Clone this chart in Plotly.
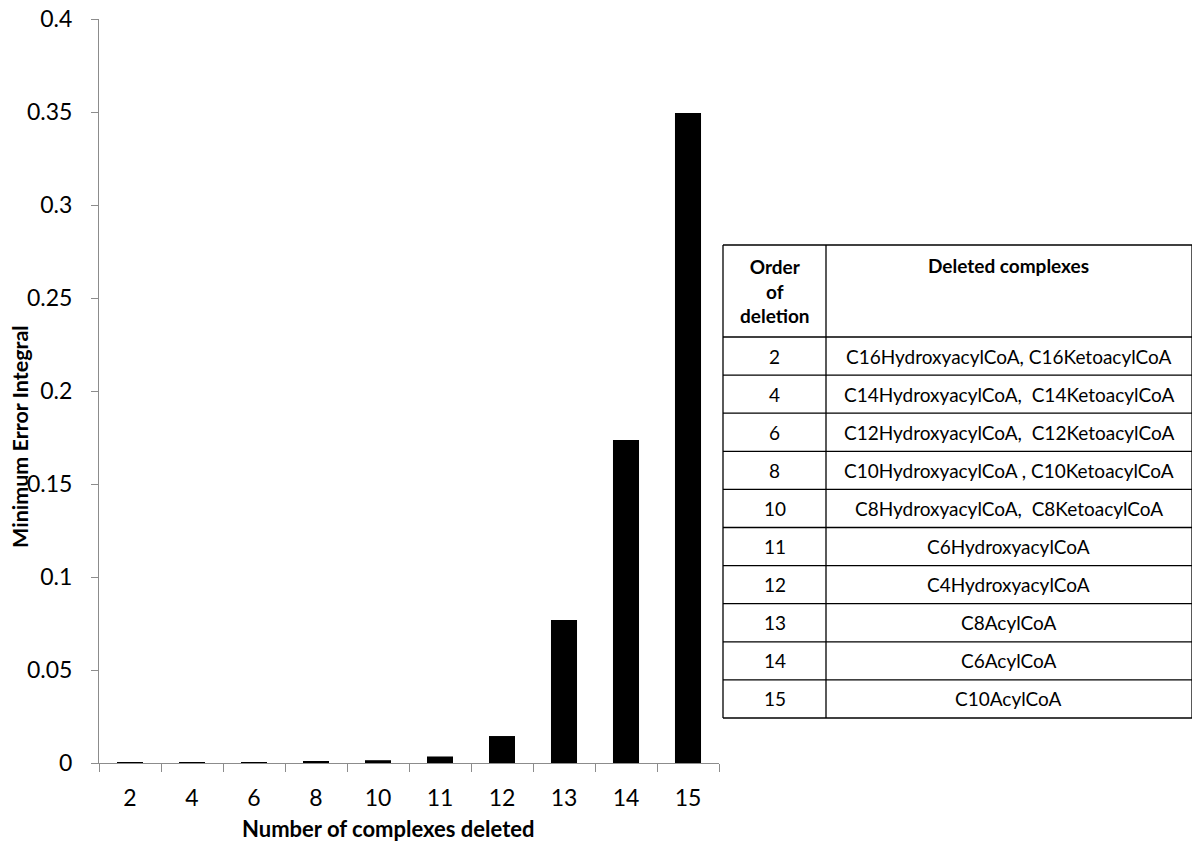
import plotly.graph_objects as go

categories = ["2", "4", "6", "8", "10", "11", "12", "13", "14", "15"]
min_error = [0.0002, 0.0003, 0.0004, 0.0008, 0.0015, 0.0035, 0.0145, 0.0769, 0.1737, 0.3495]

x_title = "Number of complexes deleted"
y_title = "Minimum Error Integral"

table_header = ["Order<br>of<br>deletion", "Deleted complexes"]
order_of_deletion = ["2", "4", "6", "8", "10", "11", "12", "13", "14", "15"]
deleted_complexes = [
    "C16HydroxyacylCoA, C16KetoacylCoA",
    "C14HydroxyacylCoA,  C14KetoacylCoA",
    "C12HydroxyacylCoA,  C12KetoacylCoA",
    "C10HydroxyacylCoA , C10KetoacylCoA",
    "C8HydroxyacylCoA,  C8KetoacylCoA",
    "C6HydroxyacylCoA",
    "C4HydroxyacylCoA",
    "C8AcylCoA",
    "C6AcylCoA",
    "C10AcylCoA",
]

FONT = "Lato"
W, H = 1200, 847
OFF = 8  # page body margin offset in the screenshot


def px(xp):
    return (xp - OFF) / W


def py(yp):
    return 1 - (yp - OFF) / H


fig = go.Figure()
fig.add_trace(go.Bar(
    x=categories, y=min_error,
    marker=dict(color="black", line=dict(width=0)),
    showlegend=False,
))

# ---- table drawn with shapes + annotations (paper coordinates) ----
tx0, tx1, tx2 = 723, 826, 1192
ty_top, ty_head = 245, 337
row_h = 38.1
n_rows = len(order_of_deletion)
ty_bot = ty_head + row_h * n_rows
line = dict(color="black", width=1.3)

shapes = []
for x in (tx0, tx1, tx2):
    shapes.append(dict(type="line", xref="paper", yref="paper",
                       x0=px(x), x1=px(x), y0=py(ty_top), y1=py(ty_bot), line=line))
for yv in [ty_top, ty_head] + [ty_head + row_h * (i + 1) for i in range(n_rows)]:
    shapes.append(dict(type="line", xref="paper", yref="paper",
                       x0=px(tx0), x1=px(tx2), y0=py(yv), y1=py(yv), line=line))

annotations = []
c1 = (tx0 + tx1) / 2
c2 = (tx1 + tx2) / 2
annotations.append(dict(text="<b>" + table_header[0] + "</b>", x=px(c1), y=py(291),
                        xref="paper", yref="paper", xanchor="center", yanchor="middle",
                        align="center", showarrow=False,
                        font=dict(family=FONT, size=19, color="black")))
annotations.append(dict(text="<b>" + table_header[1] + "</b>", x=px(c2), y=py(265),
                        xref="paper", yref="paper", xanchor="center", yanchor="middle",
                        align="center", showarrow=False,
                        font=dict(family=FONT, size=19, color="black")))
for i, (o, d) in enumerate(zip(order_of_deletion, deleted_complexes)):
    yc = ty_head + row_h * (i + 0.5)
    annotations.append(dict(text=o, x=px(c1), y=py(yc), xref="paper", yref="paper",
                            xanchor="center", yanchor="middle", showarrow=False,
                            font=dict(family=FONT, size=19, color="black")))
    annotations.append(dict(text=d.replace("  ", "&nbsp; "), x=px(c2), y=py(yc),
                            xref="paper", yref="paper",
                            xanchor="center", yanchor="middle", showarrow=False,
                            font=dict(family=FONT, size=19, color="black")))

# axis titles
annotations.append(dict(text="<b>" + x_title + "</b>", x=px(388), y=py(828),
                        xref="paper", yref="paper", xanchor="center", yanchor="middle",
                        showarrow=False, font=dict(family=FONT, size=22, color="black")))
annotations.append(dict(text="<b>" + y_title + "</b>", x=px(20), y=py(437),
                        xref="paper", yref="paper", xanchor="center", yanchor="middle",
                        textangle=-90, showarrow=False,
                        font=dict(family=FONT, size=21.5, color="black")))

fig.update_layout(
    width=W, height=H,
    margin=dict(l=0, r=0, t=0, b=0, pad=0),
    paper_bgcolor="white", plot_bgcolor="white",
    bargap=0.58,
    showlegend=False,
    font=dict(family=FONT, color="black"),
    shapes=shapes,
    annotations=annotations,
    xaxis=dict(
        type="category",
        domain=[px(99), px(719)],
        range=[-0.5, 9.5],
        automargin=False,
        showline=True, linecolor="#8c8c8c", linewidth=1,
        ticks="outside", tickson="boundaries", ticklen=8, tickcolor="#8c8c8c",
        tickfont=dict(size=23, family=FONT),
        ticklabelstandoff=14,
        ticklabeloverflow="allow",
        showgrid=False,
    ),
    yaxis=dict(
        domain=[py(763), py(19)],
        range=[0, 0.4], dtick=0.05, tick0=0,
        automargin=False,
        showline=True, linecolor="#8c8c8c", linewidth=1,
        ticks="outside", ticklen=7, tickcolor="#8c8c8c",
        tickfont=dict(size=23, family=FONT),
        ticklabelstandoff=14,
        ticklabeloverflow="allow",
        showgrid=False, zeroline=False,
    ),
)

fig.write_html("out.html")
